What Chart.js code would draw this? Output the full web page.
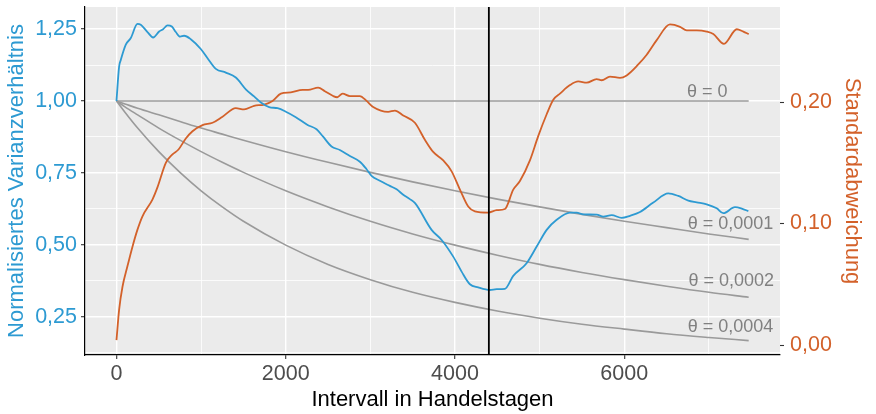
<!DOCTYPE html>
<html lang="de">
<head>
  <meta charset="UTF-8">
  <title>Varianzverhältnis</title>
  <style>
    body { margin: 0; background: #ffffff; }
    #wrap { width: 876px; height: 414px; }
  </style>
  <script src="https://cdn.jsdelivr.net/npm/chart.js@4.4.1/dist/chart.umd.min.js"></script>
</head>
<body>
  <div id="wrap"><canvas id="chart" width="876" height="414"></canvas></div>

  <script>
    // Normalisiertes Varianzverhältnis (linke Achse)
    const vrDays = [0, 31, 51, 110, 169, 248, 287, 366, 433, 504, 551, 603, 654, 701, 752, 799, 878, 996, 1076, 1174,
      1292, 1410, 1528, 1626, 1706, 1804, 1903, 2001, 2119, 2258, 2364, 2442, 2541, 2639, 2758, 2876, 2955, 3014, 3112,
      3230, 3310, 3388, 3467, 3528, 3723, 3842, 3979, 4078, 4176, 4274, 4412, 4492, 4590, 4688, 4846, 4965, 5083, 5201,
      5358, 5437, 5515, 5674, 5752, 5851, 5969, 6068, 6186, 6343, 6520, 6638, 6757, 6856, 6974, 7092, 7170, 7308, 7388, 7466];
    const vrValues = [1.000, 1.120, 1.143, 1.196, 1.219, 1.268, 1.265, 1.240, 1.221, 1.242, 1.250, 1.263, 1.259, 1.240,
      1.224, 1.227, 1.215, 1.181, 1.149, 1.112, 1.099, 1.082, 1.041, 1.016, 0.995, 0.979, 0.975, 0.963, 0.944, 0.917,
      0.902, 0.876, 0.842, 0.830, 0.809, 0.789, 0.763, 0.740, 0.723, 0.705, 0.693, 0.674, 0.659, 0.645, 0.552, 0.517,
      0.459, 0.407, 0.363, 0.352, 0.343, 0.346, 0.347, 0.392, 0.436, 0.494, 0.552, 0.587, 0.612, 0.612, 0.606, 0.605,
      0.598, 0.603, 0.594, 0.601, 0.614, 0.647, 0.679, 0.670, 0.654, 0.648, 0.641, 0.627, 0.610, 0.631, 0.626, 0.617];

    // Standardabweichung (rechte Achse)
    const sdDays = [0, 31, 71, 130, 189, 248, 307, 426, 485, 583, 662, 733, 819, 898, 1017, 1135, 1253, 1410, 1508, 1626,
      1745, 1844, 1942, 2060, 2199, 2265, 2383, 2462, 2560, 2608, 2671, 2758, 2876, 2955, 3033, 3210, 3290, 3388, 3526,
      3644, 3742, 3861, 3960, 4058, 4156, 4235, 4392, 4492, 4590, 4688, 4767, 4885, 4983, 5083, 5161, 5240, 5358, 5456,
      5556, 5674, 5733, 5831, 5949, 6028, 6165, 6265, 6383, 6540, 6659, 6738, 6856, 6974, 7052, 7178, 7329, 7407, 7470];
    const sdValues = [0.004, 0.029, 0.048, 0.065, 0.081, 0.095, 0.106, 0.120, 0.130, 0.150, 0.157, 0.161, 0.170, 0.176,
      0.181, 0.183, 0.188, 0.195, 0.194, 0.197, 0.198, 0.201, 0.207, 0.208, 0.210, 0.210, 0.212, 0.209, 0.205, 0.204,
      0.207, 0.205, 0.205, 0.201, 0.196, 0.192, 0.193, 0.189, 0.183, 0.169, 0.159, 0.152, 0.143, 0.128, 0.114, 0.110,
      0.109, 0.111, 0.112, 0.128, 0.135, 0.152, 0.172, 0.190, 0.202, 0.207, 0.214, 0.217, 0.216, 0.219, 0.218, 0.221,
      0.220, 0.222, 0.231, 0.239, 0.251, 0.264, 0.262, 0.259, 0.259, 0.258, 0.256, 0.248, 0.260, 0.258, 0.256];

    // theoretische Verläufe
    const thetaDays = [0, 100, 250, 500, 750, 1000, 1250, 1500, 2000, 2500, 3000, 3500, 4000, 4500, 5000, 5500, 6000, 6500, 7000, 7470];
    const theta0 = [1, 1, 1, 1, 1, 1, 1, 1, 1, 1, 1, 1, 1, 1, 1, 1, 1, 1, 1, 1];
    const theta1 = [1, 0.990, 0.975, 0.952, 0.929, 0.906, 0.885, 0.864, 0.824, 0.787, 0.752, 0.719, 0.688, 0.659, 0.632, 0.606, 0.582, 0.560, 0.538, 0.519];
    const theta2 = [1, 0.980, 0.952, 0.906, 0.864, 0.824, 0.787, 0.752, 0.688, 0.632, 0.582, 0.538, 0.499, 0.464, 0.432, 0.404, 0.379, 0.356, 0.335, 0.318];
    const theta4 = [1, 0.961, 0.906, 0.824, 0.752, 0.688, 0.632, 0.582, 0.499, 0.432, 0.379, 0.335, 0.300, 0.270, 0.245, 0.224, 0.207, 0.191, 0.178, 0.167];
    const thetaNames = ['θ = 0', 'θ = 0,0001', 'θ = 0,0002', 'θ = 0,0004'];

    const cutoffDay = 4400;

    // Achsen
    const xMajor = [0, 2000, 4000, 6000];
    const xMinor = [1000, 3000, 5000, 7000];
    const leftMajor = [0.25, 0.5, 0.75, 1.0, 1.25];
    const leftMinor = [0.125, 0.375, 0.625, 0.875, 1.125];
    const rightMajor = [0, 0.1, 0.2];

    const blue = '#2D9AD2';
    const orange = '#D3612A';
    const grey = '#9A9A9A';

    const pts = (xs, ys) => xs.map((x, i) => ({ x: x, y: ys[i] }));
    const comma = (v) => v.toFixed(2).replace('.', ',');
    const setTicks = (vals) => (scale) => { scale.ticks = vals.slice().sort((a, b) => a - b).map(v => ({ value: v })); };

    // grauer Panel-Hintergrund
    const panel = {
      id: 'panel',
      beforeDraw(chart) {
        const { ctx, chartArea: a } = chart;
        ctx.save();
        ctx.fillStyle = '#EBEBEB';
        ctx.fillRect(a.left, a.top, a.right - a.left, a.bottom - a.top);
        ctx.restore();
      }
    };

    // senkrechte Linie + Beschriftung der theta-Kurven
    const extras = {
      id: 'extras',
      afterDatasetsDraw(chart) {
        const { ctx, chartArea: a, scales } = chart;
        ctx.save();
        const px = scales.x.getPixelForValue(cutoffDay);
        ctx.strokeStyle = '#000000';
        ctx.lineWidth = 1.8;
        ctx.beginPath();
        ctx.moveTo(px, a.top);
        ctx.lineTo(px, a.bottom);
        ctx.stroke();

        const anchors = [[7220, 1.015], [7760, 0.555], [7770, 0.357], [7760, 0.197]];
        ctx.fillStyle = '#808080';
        ctx.font = '18px "Liberation Sans", Arial, sans-serif';
        ctx.textAlign = 'right';
        ctx.textBaseline = 'alphabetic';
        thetaNames.forEach((t, i) => {
          ctx.fillText(t, scales.x.getPixelForValue(anchors[i][0]), scales.y.getPixelForValue(anchors[i][1]));
        });
        ctx.restore();
      }
    };

    const lineDs = (label, data, color, axis, width) => ({
      label: label,
      data: data,
      borderColor: color,
      borderWidth: width,
      pointRadius: 0,
      fill: false,
      yAxisID: axis,
      cubicInterpolationMode: 'monotone'
    });

    const tickFont = { family: '"Liberation Sans", Arial, sans-serif', size: 21.5 };
    const titleFont = { family: '"Liberation Sans", Arial, sans-serif', size: 22 };

    new Chart(document.getElementById('chart').getContext('2d'), {
      type: 'line',
      data: {
        datasets: [
          lineDs('Varianzverhältnis', pts(vrDays, vrValues), blue, 'y', 1.8),
          lineDs('Standardabweichung', pts(sdDays, sdValues), orange, 'y1', 1.8),
          lineDs(thetaNames[0], pts(thetaDays, theta0), grey, 'y', 1.6),
          lineDs(thetaNames[1], pts(thetaDays, theta1), grey, 'y', 1.6),
          lineDs(thetaNames[2], pts(thetaDays, theta2), grey, 'y', 1.6),
          lineDs(thetaNames[3], pts(thetaDays, theta4), grey, 'y', 1.6)
        ]
      },
      options: {
        responsive: false,
        animation: false,
        devicePixelRatio: 1,
        layout: { padding: { top: 7, left: 0, right: 0, bottom: 0 } },
        plugins: { legend: { display: false }, tooltip: { enabled: false } },
        scales: {
          x: {
            type: 'linear',
            min: -372,
            max: 7840,
            afterBuildTicks: setTicks(xMajor.concat(xMinor)),
            afterFit: (s) => { s.height = 59; s.paddingLeft = 0; s.paddingRight = 0; },
            border: { display: true, color: '#000000', width: 1.2 },
            grid: {
              color: '#FFFFFF',
              lineWidth: (c) => xMajor.includes(c.tick.value) ? 1.4 : 0.8,
              tickColor: (c) => xMajor.includes(c.tick.value) ? '#333333' : 'rgba(0,0,0,0)',
              tickLength: 4,
              tickWidth: 1.1
            },
            ticks: {
              color: '#4D4D4D',
              font: tickFont,
              padding: 2,
              maxRotation: 0,
              autoSkip: false,
              callback: (v) => xMajor.includes(v) ? String(v) : ''
            },
            title: {
              display: true,
              text: 'Intervall in Handelstagen',
              color: '#000000',
              font: titleFont,
              padding: { top: 0, bottom: 1 }
            }
          },
          y: {
            position: 'left',
            min: 0.117,
            max: 1.327,
            afterBuildTicks: setTicks(leftMajor.concat(leftMinor)),
            afterFit: (s) => { s.width = 85; s.paddingTop = 0; s.paddingBottom = 0; },
            border: { display: true, color: '#000000', width: 1.2 },
            grid: {
              color: '#FFFFFF',
              lineWidth: (c) => leftMajor.includes(c.tick.value) ? 1.4 : 0.8,
              tickColor: (c) => leftMajor.includes(c.tick.value) ? '#333333' : 'rgba(0,0,0,0)',
              tickLength: 4,
              tickWidth: 1.1
            },
            ticks: {
              color: blue,
              font: tickFont,
              padding: 4,
              autoSkip: false,
              callback: (v) => leftMajor.includes(v) ? comma(v) : ''
            },
            title: {
              display: true,
              text: 'Normalisiertes Varianzverhältnis',
              color: blue,
              font: titleFont,
              padding: { top: 4, bottom: 0 }
            }
          },
          y1: {
            position: 'right',
            min: -0.0082,
            max: 0.2783,
            afterBuildTicks: setTicks(rightMajor),
            afterFit: (s) => { s.width = 96; s.paddingTop = 0; s.paddingBottom = 0; },
            border: { display: false },
            grid: {
              drawOnChartArea: false,
              tickColor: '#333333',
              tickLength: 4,
              tickWidth: 1.1
            },
            ticks: {
              color: orange,
              font: tickFont,
              padding: 6,
              autoSkip: false,
              callback: (v) => comma(v)
            },
            title: {
              display: true,
              text: 'Standardabweichung',
              color: orange,
              font: titleFont,
              padding: { top: 11, bottom: 0 }
            }
          }
        }
      },
      plugins: [panel, extras]
    });
  </script>
</body>
</html>
